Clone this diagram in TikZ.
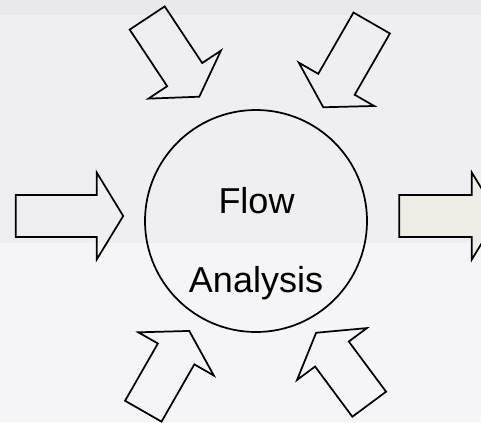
\documentclass[tikz,border=0pt]{standalone}
\usepackage{fontspec}
\setmainfont{Liberation Sans}

\definecolor{bgtop}{RGB}{233,233,237}
\definecolor{bgmid}{RGB}{239,239,242}
\definecolor{bglow}{RGB}{245,245,247}
\definecolor{outfill}{RGB}{238,238,230}

\tikzset{every picture/.style={line width=1.3pt}}
\tikzset{
  arrowbody/.style={draw=black, line join=miter},
  flowcircle/.style={circle, draw=black, minimum size=166.5pt, inner sep=0pt},
  flowtext/.style={anchor=base, font=\fontsize{27}{32}\selectfont},
  pics/fatarrow/.style={code={
    \draw [arrowbody] (0,-21) -- (#1-26.5,-21) -- (#1-26.5,-43.5) -- (#1,0)
       -- (#1-26.5,43.5) -- (#1-26.5,21) -- (0,21) -- cycle ;
  }}
}

\begin{document}
\begin{tikzpicture}[x=0.75pt,y=0.75pt,yscale=-1,xscale=1]
\useasboundingbox (0,0) rectangle (481,422);
\clip (0,0) rectangle (481,422);

%background bands
\fill [bgtop] (0,0) rectangle (481,15) ;
\fill [bgmid] (0,15) rectangle (481,243) ;
\fill [bglow] (0,243) rectangle (481,422) ;

%Circle
\node [flowcircle] (fa) at (256,221) {} ;
\node [flowtext] (flow) at (256.5,213) {Flow} ;
\node [flowtext] (analysis) at (256,292) {Analysis} ;

%Block arrows in
\pic at (15.7,216) {fatarrow=107.5} ;
\pic [rotate=-56.5] at (147.2,18) {fatarrow=94.4} ;
\pic [rotate=-119.9] at (371.7,23) {fatarrow=97.2} ;
\pic [rotate=60.2] at (143.3,411.2) {fatarrow=92.5} ;
\pic [rotate=126.6] at (369.2,404.2) {fatarrow=89} ;

%Block arrow out
\pic [arrowbody/.append style={fill=outfill}] at (399.3,216) {fatarrow=99} ;
\end{tikzpicture}
\end{document}
